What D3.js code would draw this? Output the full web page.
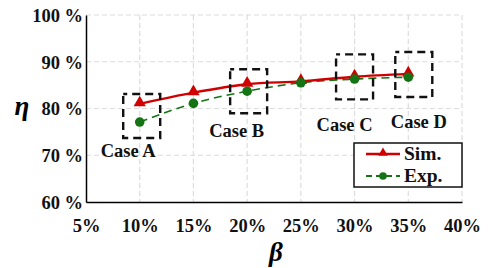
<!DOCTYPE html>
<html>
<head>
<meta charset="utf-8">
<script src="https://cdn.jsdelivr.net/npm/d3@7"></script>
<style>
body { margin: 0; background: #fff; }
svg text { font-family: "Liberation Serif", "Times New Roman", serif; font-weight: bold; }
</style>
</head>
<body>
<div id="chart"></div>
<script>
var beta = [10, 15, 20, 25, 30, 35];
var simEta = [81.0, 83.4, 85.2, 85.8, 86.8, 87.4];
var expEta = [77.1, 81.1, 83.7, 85.5, 86.3, 86.7];
var xTicks = [5, 10, 15, 20, 25, 30, 35, 40];
var yTicks = [60, 70, 80, 90, 100];
var caseNames = ["Case A", "Case B", "Case C", "Case D"];
var caseBeta = [10, 20, 30, 35];
var seriesNames = ["Sim.", "Exp."];

var width = 490, height = 268;
var plotL = 86, plotR = 462, plotT = 15, plotB = 202;
var red = "#d00000", green = "#147314";

var svg = d3.select("#chart").append("svg")
			.attr("width", width)
			.attr("height", height);

var x = d3.scaleLinear().domain([5, 40]).range([plotL, plotR]);
var y = d3.scaleLinear().domain([60, 100]).range([plotB, plotT]);

// grid
svg.append("g").selectAll("line")
	.data(xTicks.slice(1))
	.enter().append("line")
	.attr("x1", function(d){return x(d)}).attr("x2", function(d){return x(d)})
	.attr("y1", plotT).attr("y2", plotB)
	.style("stroke", "#dcdcdc").style("stroke-width", 1.2).style("stroke-dasharray", "5,3");
svg.append("g").selectAll("line")
	.data(yTicks.slice(1))
	.enter().append("line")
	.attr("x1", plotL).attr("x2", plotR)
	.attr("y1", function(d){return y(d)}).attr("y2", function(d){return y(d)})
	.style("stroke", "#dcdcdc").style("stroke-width", 1.2).style("stroke-dasharray", "5,3");

// axes
var xAxis = svg.append("g").attr("transform", "translate(0," + plotB + ")")
	.call(d3.axisBottom(x).tickValues(xTicks).tickSize(0).tickPadding(17).tickFormat(function(d){return d + "%"}));
var yAxis = svg.append("g").attr("transform", "translate(" + plotL + ",0)")
	.call(d3.axisLeft(y).tickValues(yTicks).tickSize(0).tickPadding(3).tickFormat(function(d){return d + " %"}));
[xAxis, yAxis].forEach(function(a){
	a.select(".domain").style("stroke", "#000").style("stroke-width", 1.5);
	a.selectAll("text").style("font-size", "18.5px").style("fill", "#111")
		.style("font-family", "'Liberation Serif', serif").style("font-weight", "bold");
});
xAxis.selectAll("text").attr("dy", "0.71em");
yAxis.selectAll("text").attr("dy", "0.35em");

// axis labels
svg.append("text").attr("x", 22).attr("y", 115).attr("text-anchor", "middle")
	.style("font-size", "27px").style("font-style", "italic").text("η");
svg.append("text").attr("x", 276).attr("y", 261).attr("text-anchor", "middle")
	.style("font-size", "27px").style("font-style", "italic").text("β");

// lines
var line = d3.line().curve(d3.curveMonotoneX);
var simPts = beta.map(function(b, i){return [x(b), y(simEta[i])]});
var expPts = beta.map(function(b, i){return [x(b), y(expEta[i])]});

svg.append("path").attr("d", line(expPts))
	.style("fill", "none").style("stroke", green).style("stroke-width", 1.6).style("stroke-dasharray", "8,5");
svg.append("path").attr("d", line(simPts))
	.style("fill", "none").style("stroke", red).style("stroke-width", 2.4);

var tri = d3.symbol().type(d3.symbolTriangle).size(65);
svg.selectAll("path.sim").data(simPts).enter().append("path").attr("class", "sim")
	.attr("transform", function(d){return "translate(" + d[0] + "," + (d[1] - 1) + ")"})
	.attr("d", tri).style("fill", red);
svg.selectAll("circle.exp").data(expPts).enter().append("circle").attr("class", "exp")
	.attr("cx", function(d){return d[0]}).attr("cy", function(d){return d[1]})
	.attr("r", 4.8).style("fill", green);

// case boxes
var boxDx = [2, 1.5, 0, 5.5], boxDy = [3, 3.5, -1, -1];
var boxH = [44, 44, 45, 45], boxW = 37;
var labDx = [-13.5, -12, -10, 5], labDy = [41, 46, 54.5, 53.5];
var boxes = caseBeta.map(function(b, i){
	var k = beta.indexOf(b);
	return {
		x: x(b) + boxDx[i],
		y: (y(simEta[k]) + y(expEta[k])) / 2 + boxDy[i],
		name: caseNames[i], i: i
	};
});
svg.selectAll("rect.case").data(boxes).enter().append("rect").attr("class", "case")
	.attr("x", function(d){return d.x - boxW / 2})
	.attr("y", function(d){return d.y - boxH[d.i] / 2})
	.attr("width", boxW).attr("height", function(d){return boxH[d.i]})
	.style("fill", "none").style("stroke", "#111").style("stroke-width", 2.4)
	.style("stroke-dasharray", "8,5").style("stroke-dashoffset", 4);

svg.selectAll("text.case").data(boxes).enter().append("text").attr("class", "case")
	.attr("x", function(d){return d.x + labDx[d.i]})
	.attr("y", function(d){return d.y + labDy[d.i]})
	.attr("text-anchor", "middle").style("font-size", "18.5px").style("fill", "#111")
	.text(function(d){return d.name});

// legend
var lg = svg.append("g").attr("transform", "translate(354,143)");
lg.append("rect").attr("width", 108).attr("height", 44)
	.style("fill", "#fff").style("stroke", "#111").style("stroke-width", 1.5);
var items = [{c: red, dash: null, sym: "tri"}, {c: green, dash: "6,4", sym: "circ"}];
items.forEach(function(it, i){
	var yy = 11 + i * 22;
	lg.append("line").attr("x1", 12).attr("x2", 46).attr("y1", yy).attr("y2", yy)
		.style("stroke", it.c).style("stroke-width", i == 0 ? 2.4 : 2)
		.style("stroke-dasharray", it.dash);
	if(it.sym == "tri")
		lg.append("path").attr("transform", "translate(29," + (yy - 1) + ")")
			.attr("d", d3.symbol().type(d3.symbolTriangle).size(40)).style("fill", it.c);
	else
		lg.append("circle").attr("cx", 29).attr("cy", yy).attr("r", 3.8).style("fill", it.c);
	lg.append("text").attr("x", 50).attr("y", yy + 6).style("font-size", "19.5px").style("fill", "#111")
		.text(seriesNames[i]);
});
</script>
</body>
</html>
